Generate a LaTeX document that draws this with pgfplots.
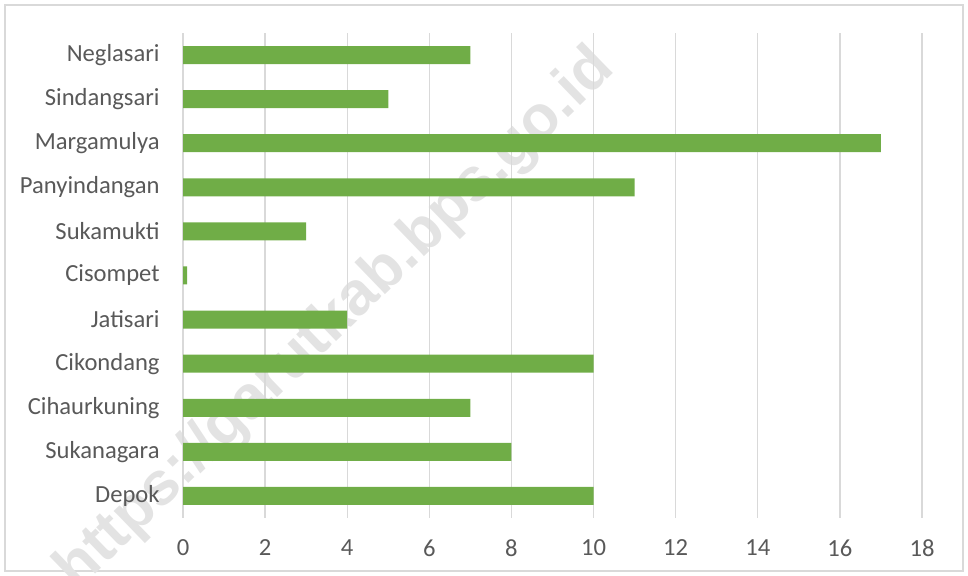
\documentclass[border=0pt]{standalone}
\usepackage{pgfplots}
\pgfplotsset{compat=1.18}
\usepackage{fontspec}
\setmainfont{Carlito}
\newfontfamily\wmfont{Liberation Sans}
\definecolor{bargreen}{HTML}{70AD47}
\definecolor{gridgray}{HTML}{D9D9D9}
\definecolor{textgray}{HTML}{595959}
\definecolor{wmgray}{HTML}{E3E3E3}
\begin{document}
\begin{tikzpicture}[x=1pt,y=1pt]
\path[use as bounding box] (0,0) rectangle (484,288);
\draw[gridgray, line width=0.7pt] (2.5,2.5) rectangle (481.5,285.5);
% watermark, under the chart
\node[rotate=44, text=wmgray, font=\wmfont\bfseries\fontsize{30.5}{30.5}\selectfont] at (168,128) {https://garutkab.bps.go.id};
\begin{axis}[
    at={(91.5pt,29pt)}, anchor=south west,
    scale only axis,
    width=369.5pt, height=242.5pt,
    xbar,
    bar width=9pt,
    xmin=0, xmax=18,
    ymin=-0.5, ymax=10.5,
    xtick={0,2,...,18},
    ytick={0,...,10},
    yticklabels={Depok,Sukanagara,Cihaurkuning,Cikondang,Jatisari,Cisompet,Sukamukti,Panyindangan,Margamulya,Sindangsari,Neglasari},
    xmajorgrids,
    grid style={gridgray, line width=0.7pt},
    axis line style={draw=none},
    major tick length=0pt,
    tick label style={font=\fontsize{12.3}{12.3}\selectfont, text=textgray},
    /pgf/number format/assume math mode=true,
    xticklabel style={anchor=center, yshift=-15pt},
    yticklabel style={anchor=east, inner sep=0pt, xshift=-11.5pt},
    ]
\addplot[fill=bargreen, draw=none] coordinates {
    (10,0) (8,1) (7,2) (10,3) (4,4) (0.1,5) (3,6) (11,7) (17,8) (5,9) (7,10)};
\end{axis}
\end{tikzpicture}
\end{document}
